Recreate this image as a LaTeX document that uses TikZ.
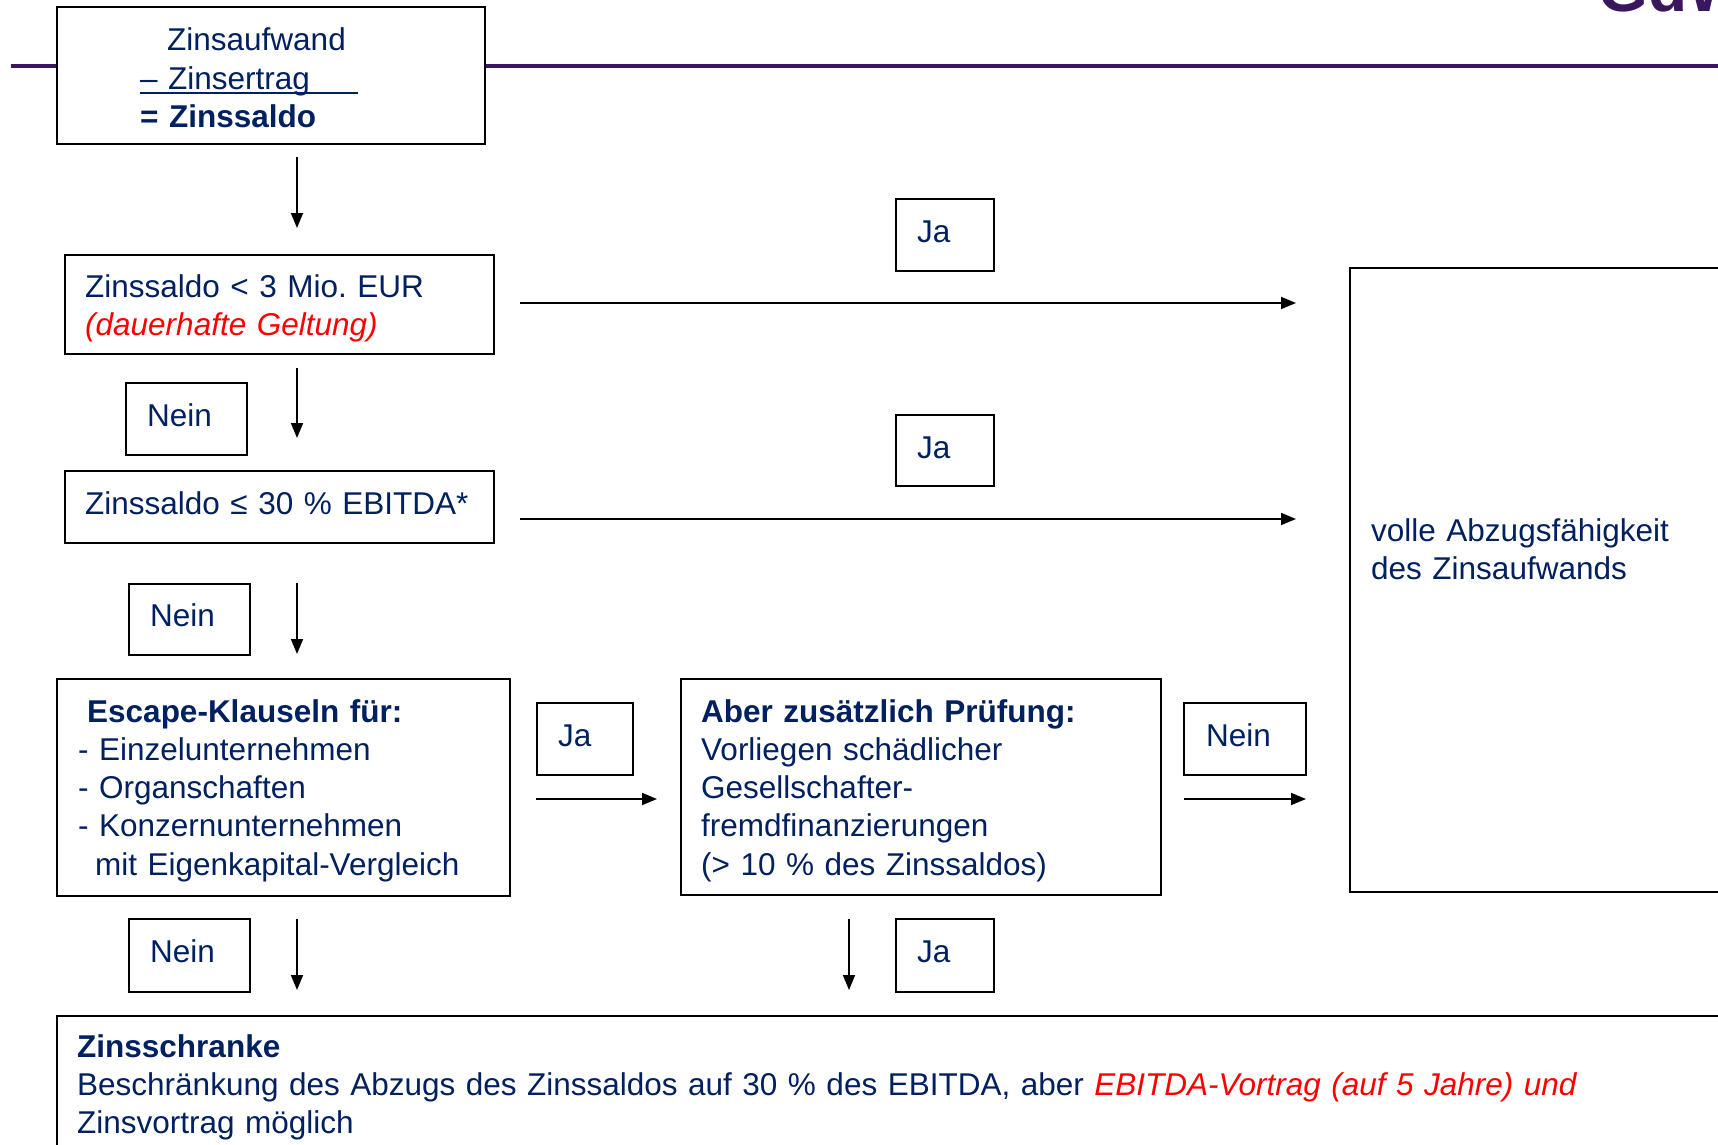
\documentclass[tikz,border=0pt]{standalone}
\usepackage{fontspec}
\setmainfont{Liberation Sans}
\usetikzlibrary{arrows.meta}
\definecolor{navy}{RGB}{0,32,96}
\definecolor{purp}{RGB}{58,22,92}
\definecolor{redtxt}{RGB}{255,0,0}
\frenchspacing
\begin{document}
\begin{tikzpicture}[x=1pt,y=-1pt,
  box/.style={draw=black, line width=2pt, inner sep=0pt, fill=white},
  txt/.style={anchor=base west, inner sep=0pt, text=navy, text width=#1, align=left,
    font=\fontsize{31.5}{38.3}\selectfont},
  txt/.default=600pt,
  arr/.style={line width=1.8pt, -{Triangle[length=15pt,width=12pt]}},
]
\useasboundingbox (0,0) rectangle (1718,1145);
\clip (0,0) rectangle (1718,1145);
% header line and logo
\draw[purp, line width=4.5pt] (11,66) -- (1718,66);
\node[anchor=base west, inner sep=0pt, text=purp, font=\fontsize{64}{70}\selectfont\bfseries] (logo) at (1598,12) {GdW};
% boxes
\node[box, minimum width=428, minimum height=137] (top) at (271,75.5) {};
\node[box, minimum width=429, minimum height=99] (b2) at (279.5,304.5) {};
\node[box, minimum width=429, minimum height=72] (b3) at (279.5,507) {};
\node[box, minimum width=453, minimum height=217] (esc) at (283.5,787.5) {};
\node[box, minimum width=480, minimum height=216] (aber) at (921,787) {};
\node[box, minimum width=390, minimum height=624] (voll) at (1545,580) {};
\node[box, minimum width=1683, minimum height=154] (zs) at (898.5,1093) {};
% label boxes
\node[box, minimum width=98, minimum height=72] (ja1) at (945,235) {};
\node[box, minimum width=121, minimum height=72] (nein1) at (186.5,419) {};
\node[box, minimum width=98, minimum height=71] (ja2) at (945,450.5) {};
\node[box, minimum width=121, minimum height=71] (nein2) at (189.5,619.5) {};
\node[box, minimum width=96, minimum height=72] (ja3) at (585,739) {};
\node[box, minimum width=122, minimum height=72] (nein3) at (1245,739) {};
\node[box, minimum width=121, minimum height=73] (nein4) at (189.5,955.5) {};
\node[box, minimum width=98, minimum height=73] (ja4) at (945,955.5) {};
% texts
\node[txt] (ttop) at (140,51) {\hspace*{27pt}Zinsaufwand\\– Zinsertrag\\\textbf{= Zinssaldo}};
\draw[navy, line width=1.5pt] (140,93) -- (358,93);
\node[txt] (tb2) at (85,297) {Zinssaldo < 3 Mio. EUR\\\textcolor{redtxt}{\itshape (dauerhafte Geltung)}};
\node[txt] (tb3) at (85,514) {Zinssaldo ≤ 30 \% EBITDA*};
\node[txt] (tesc) at (78,722) {\textbf{\hspace*{9pt}Escape-Klauseln für:}\\- Einzelunternehmen\\- Organschaften\\- Konzernunternehmen\\\hspace*{17pt}mit Eigenkapital-Vergleich};
\node[txt] (taber) at (701,722) {\textbf{Aber zusätzlich Prüfung:}\\Vorliegen schädlicher\\Gesellschafter-\\fremdfinanzierungen\\(> 10 \% des Zinssaldos)};
\node[txt] (tvoll) at (1371,541) {volle Abzugsfähigkeit\\des Zinsaufwands};
\node[txt=1640pt] (tzs) at (77,1057) {\textbf{Zinsschranke}\\Beschränkung des Abzugs des Zinssaldos auf 30 \% des EBITDA, aber \textcolor{redtxt}{\itshape EBITDA-Vortrag (auf 5 Jahre) und}\\Zinsvortrag möglich};
\node[txt] (tja1) at (917,242) {Ja};
\node[txt] (tja2) at (917,458) {Ja};
\node[txt] (tja3) at (558,746) {Ja};
\node[txt] (tja4) at (917,962) {Ja};
\node[txt] (tnein1) at (147,426) {Nein};
\node[txt] (tnein2) at (150,626) {Nein};
\node[txt] (tnein3) at (1206,746) {Nein};
\node[txt] (tnein4) at (150,962) {Nein};
% connector end points
\coordinate (d1s) at (297,157); \coordinate (d1e) at (297,228);
\coordinate (r1s) at (520,303); \coordinate (r1e) at (1296,303);
\coordinate (d2s) at (297,368); \coordinate (d2e) at (297,438);
\coordinate (r2s) at (520,519); \coordinate (r2e) at (1296,519);
\coordinate (d3s) at (297,583); \coordinate (d3e) at (297,654);
\coordinate (r3s) at (536,799); \coordinate (r3e) at (657,799);
\coordinate (r4s) at (1184,799); \coordinate (r4e) at (1306,799);
\coordinate (d4s) at (297,919); \coordinate (d4e) at (297,990);
\coordinate (d5s) at (849,919); \coordinate (d5e) at (849,990);
\draw[arr] (d1s) -- (d1e);
\draw[arr] (r1s) -- (r1e);
\draw[arr] (d2s) -- (d2e);
\draw[arr] (r2s) -- (r2e);
\draw[arr] (d3s) -- (d3e);
\draw[arr] (r3s) -- (r3e);
\draw[arr] (r4s) -- (r4e);
\draw[arr] (d4s) -- (d4e);
\draw[arr] (d5s) -- (d5e);
\end{tikzpicture}
\end{document}
